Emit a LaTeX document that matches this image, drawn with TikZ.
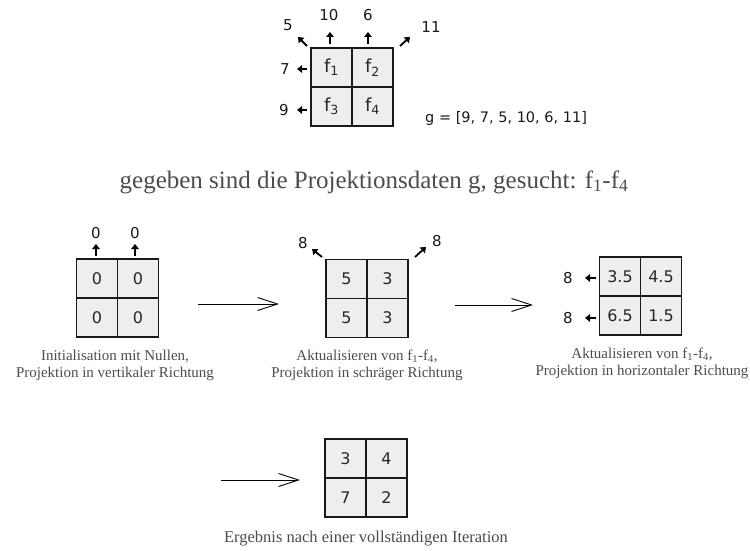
\documentclass[tikz,border=0pt]{standalone}
\usepackage{fontspec}
\setmainfont{Liberation Serif}
\newfontfamily\numfont{DejaVu Sans}
\usetikzlibrary{arrows.meta}
\newcommand\quadgrid[7]{%
  \node[cell] (#1a) at (#2-20.5,#3-19.5) {#4};
  \node[cell] (#1b) at (#2+20.5,#3-19.5) {#5};
  \node[cell] (#1c) at (#2-20.5,#3+19.5) {#6};
  \node[cell] (#1d) at (#2+20.5,#3+19.5) {#7};}
\begin{document}
\begin{tikzpicture}[x=1pt,y=-1pt,
  cell/.style={draw=black!90,line width=1.2pt,fill=gray!13,minimum width=41pt,minimum height=39pt,inner sep=0pt,font=\numfont\fontsize{16}{16}\selectfont,text=black!85},
  lab/.style={font=\numfont\fontsize{15}{15}\selectfont,inner sep=0pt,text=black!90},
  sarr/.style={line width=1.8pt,-{Triangle[length=5pt,width=7.5pt]}},
  bigarr/.style={line width=0.9pt,-{Straight Barb[length=20pt,width=13pt,line width=0.9pt]}},
  captext/.style={font=\fontsize{15}{17}\selectfont,text=black!70,align=center,inner sep=0pt}]
\useasboundingbox (0,0) rectangle (750,551);
% ---------- top grid
\begin{scope}[cell/.append style={font=\numfont\fontsize{18}{18}\selectfont}]
\quadgrid{t}{352}{87}{f\textsubscript{1}}{f\textsubscript{2}}{f\textsubscript{3}}{f\textsubscript{4}}
\end{scope}
\node[lab] (l10) at (329,15) {10};
\node[lab] (l6) at (368,15) {6};
\node[lab] (l5) at (288,25) {5};
\node[lab] (l11) at (431,27) {11};
\node[lab] (l7) at (285,69) {7};
\node[lab] (l9) at (284,110) {9};
\coordinate (s10) at (330,44); \coordinate (e10) at (330,32);
\coordinate (s6) at (368,44); \coordinate (e6) at (368,32);
\coordinate (s5) at (307,46); \coordinate (e5) at (298,37);
\coordinate (s11) at (400,46); \coordinate (e11) at (410,37);
\coordinate (s7) at (307,69); \coordinate (e7) at (297,69);
\coordinate (s9) at (307,110); \coordinate (e9) at (297,110);
\foreach \n in {10,6,5,11,7,9} \draw[sarr] (s\n) -- (e\n);
\node[lab,anchor=west,font=\numfont\fontsize{14.5}{14.5}\selectfont] (gvec) at (425,118) {g = [9, 7, 5, 10, 6, 11]};
% ---------- title
\node[font=\fontsize{25}{25}\selectfont,text=black!70,inner sep=0pt] (title) at (374,182)
  {gegeben sind die Projektionsdaten g, gesucht: f\textsubscript{1}-f\textsubscript{4}};
% ---------- grid 1
\quadgrid{a}{117.5}{298}{0}{0}{0}{0}
\node[lab] (a0l) at (96,233) {0};
\node[lab] (a0r) at (135,233) {0};
\coordinate (as1) at (96,256); \coordinate (ae1) at (96,244);
\coordinate (as2) at (135,256); \coordinate (ae2) at (135,244);
\draw[sarr] (as1) -- (ae1);
\draw[sarr] (as2) -- (ae2);
\node[captext] (cap1) at (115,365) {Initialisation mit Nullen,\\Projektion in vertikaler Richtung};
% ---------- grid 2
\quadgrid{b}{367}{298.5}{5}{3}{5}{3}
\node[lab] (b8l) at (303,243) {8};
\node[lab] (b8r) at (437,241) {8};
\coordinate (bs1) at (322,257); \coordinate (be1) at (312,249);
\coordinate (bs2) at (415,257); \coordinate (be2) at (426,247);
\draw[sarr] (bs1) -- (be1);
\draw[sarr] (bs2) -- (be2);
\node[captext] (cap2) at (367,365) {Aktualisieren von f\textsubscript{1}-f\textsubscript{4},\\Projektion in schräger Richtung};
% ---------- grid 3
\quadgrid{c}{640.5}{296}{3.5}{4.5}{6.5}{1.5}
\node[lab] (c8t) at (568,278) {8};
\node[lab] (c8b) at (568,318) {8};
\coordinate (cs1) at (596,278); \coordinate (ce1) at (585,278);
\coordinate (cs2) at (596,318); \coordinate (ce2) at (585,318);
\draw[sarr] (cs1) -- (ce1);
\draw[sarr] (cs2) -- (ce2);
\node[captext] (cap3) at (642,363) {Aktualisieren von f\textsubscript{1}-f\textsubscript{4},\\Projektion in horizontaler Richtung};
% ---------- grid 4
\quadgrid{d}{366}{478}{3}{4}{7}{2}
\node[captext,font=\fontsize{16.5}{18}\selectfont] (cap4) at (366,539) {Ergebnis nach einer vollständigen Iteration};
% ---------- big arrows
\coordinate (A1s) at (198,304); \coordinate (A1e) at (279,304);
\coordinate (A2s) at (455,305); \coordinate (A2e) at (533,305);
\coordinate (A3s) at (221,480); \coordinate (A3e) at (300,480);
\draw[bigarr] (A1s) -- (A1e);
\draw[bigarr] (A2s) -- (A2e);
\draw[bigarr] (A3s) -- (A3e);
\end{tikzpicture}
\end{document}
